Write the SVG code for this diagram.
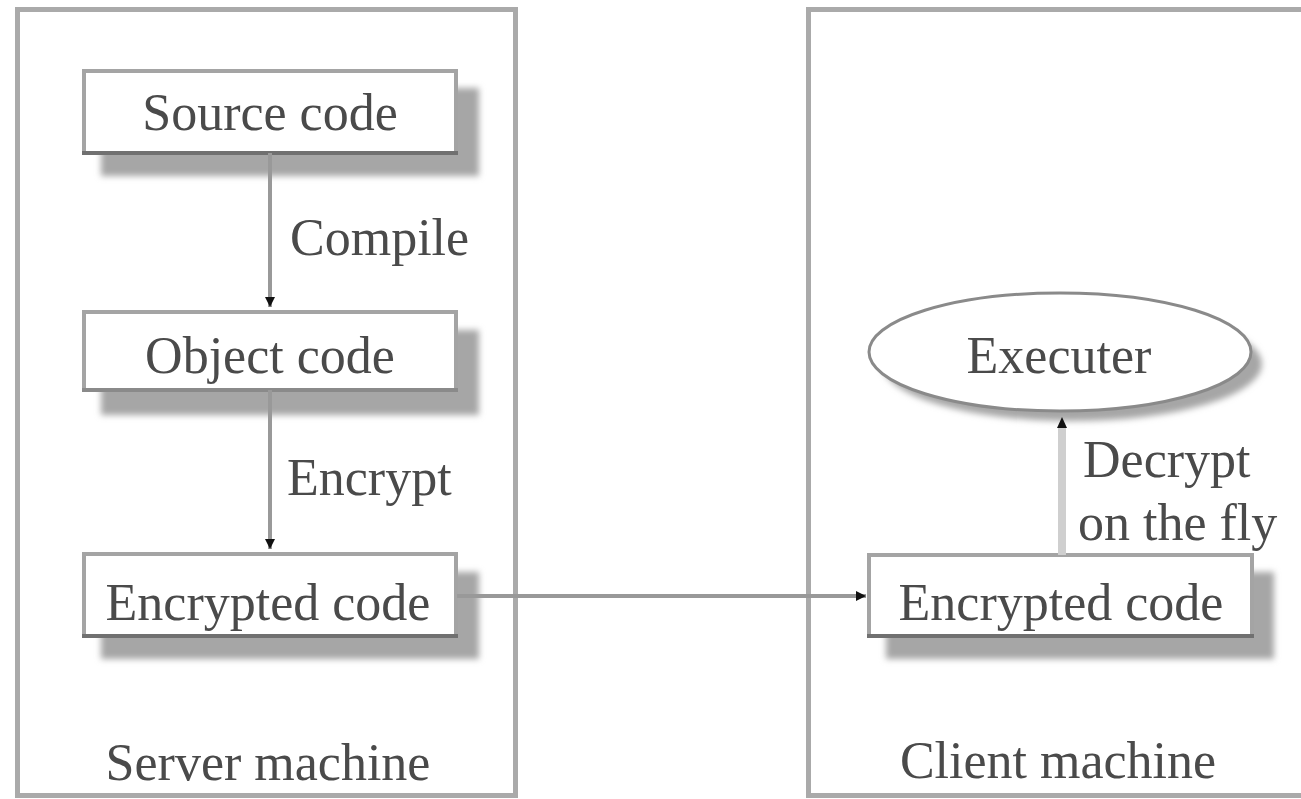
<svg xmlns="http://www.w3.org/2000/svg" width="1301" height="799" viewBox="0 0 1301 799">
<style>
.panel{fill:#fff;stroke:#aaa;stroke-width:5}
.box{fill:#fff;stroke:#a4a4a4;stroke-width:4}
.boxb{stroke:#707070;stroke-width:4}
.shadow{fill:#a6a6a6;filter:url(#blur)}
.t{font-family:"Liberation Serif","Times New Roman",serif;font-size:52px;fill:#4a4a4a}
.c{text-anchor:middle}
.edge{stroke:#999;stroke-width:4;fill:none}
</style>
<defs>
<filter id="blur" x="-20%" y="-20%" width="140%" height="140%"><feGaussianBlur stdDeviation="3"/></filter>
<marker id="arr" markerUnits="userSpaceOnUse" markerWidth="12" markerHeight="12" refX="10" refY="5" orient="auto"><path d="M0,0 L10,5 L0,10 Z" fill="#111"/></marker>
</defs>
<rect width="1301" height="799" fill="#fff"/>
<g id="server-machine">
<rect class="panel" x="17.5" y="9.5" width="498" height="786"/>
<text class="t c" x="268" y="780">Server machine</text>
</g>
<g id="client-machine">
<rect class="panel" x="808.5" y="9.5" width="520" height="786"/>
<text class="t c" x="1058" y="778">Client machine</text>
</g>
<g id="source-code">
<rect class="shadow" x="101" y="88" width="378" height="88"/>
<rect class="box" x="84" y="71" width="372" height="82"/>
<line class="boxb" x1="82" y1="153" x2="458" y2="153"/>
<text class="t c" x="270" y="130">Source code</text>
</g>
<g id="object-code">
<rect class="shadow" x="101" y="330" width="378" height="85"/>
<rect class="box" x="84" y="312" width="372" height="78"/>
<line class="boxb" x1="82" y1="390" x2="458" y2="390" style="stroke:#8a8a8a"/>
<text class="t c" x="270" y="373">Object code</text>
</g>
<g id="encrypted-code-server">
<rect class="shadow" x="101" y="572" width="378" height="87"/>
<rect class="box" x="84" y="554" width="372" height="82"/>
<line class="boxb" x1="82" y1="636" x2="458" y2="636"/>
<text class="t c" x="268" y="620">Encrypted code</text>
</g>
<g id="encrypted-code-client">
<rect class="shadow" x="886" y="572" width="388" height="87"/>
<rect class="box" x="869" y="555" width="383" height="81"/>
<line class="boxb" x1="867" y1="636" x2="1254" y2="636"/>
<text class="t c" x="1061" y="620">Encrypted code</text>
</g>
<g id="executer">
<ellipse cx="1072" cy="364" rx="190" ry="57" fill="#a6a6a6" filter="url(#blur)"/>
<ellipse cx="1060" cy="352" rx="191" ry="59" fill="#fff" stroke="#8a8a8a" stroke-width="3"/>
<text class="t c" x="1059" y="373">Executer</text>
</g>
<g id="connectors">
<line class="edge" x1="270" y1="153" x2="270" y2="307" marker-end="url(#arr)"/>
<line class="edge" x1="270" y1="390" x2="270" y2="549" marker-end="url(#arr)"/>
<line class="edge" x1="457" y1="596" x2="866" y2="596" stroke="#8a8a8a" marker-end="url(#arr)"/>
<line x1="1062" y1="555" x2="1062" y2="426" stroke="#cfcfcf" stroke-width="8"/>
<path d="M1057,428 L1062,417 L1067,428 Z" fill="#111"/>
<text class="t" x="290" y="255">Compile</text>
<text class="t" x="287" y="495">Encrypt</text>
<text class="t" x="1083" y="477">Decrypt</text>
<text class="t" x="1078" y="540">on the fly</text>
</g>
</svg>
